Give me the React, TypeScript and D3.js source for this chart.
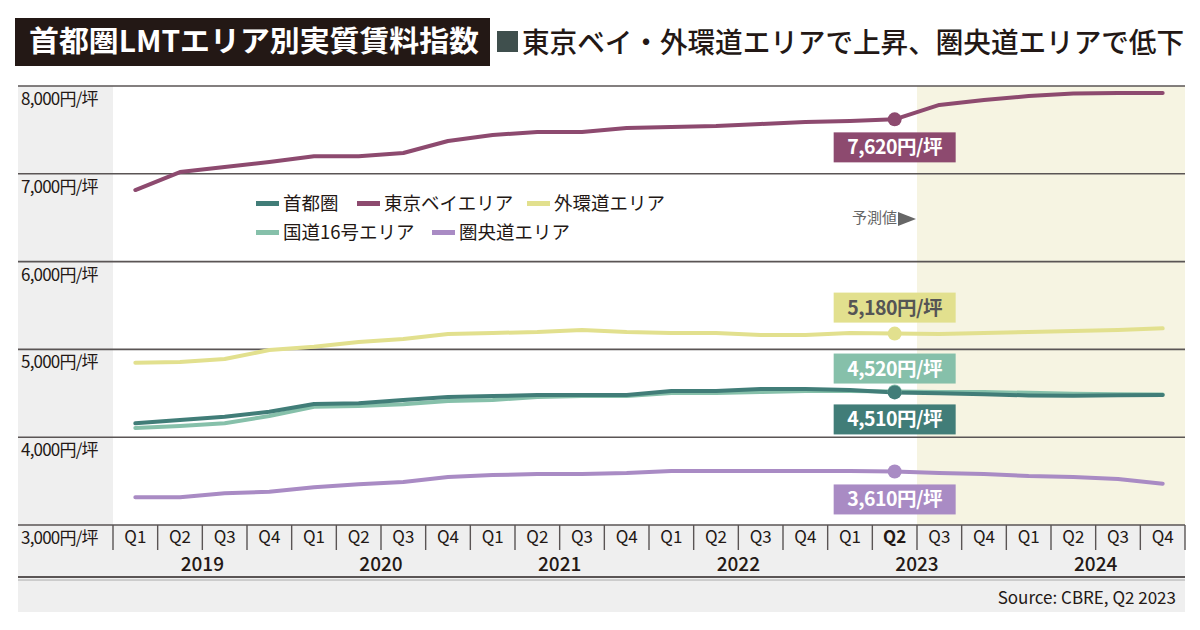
import * as d3 from 'd3';
import React from 'react';

const FONT = "'Noto Sans CJK JP', 'Noto Sans', sans-serif";

const years = ['2019', '2020', '2021', '2022', '2023', '2024'];
const quarterNames = ['Q1', 'Q2', 'Q3', 'Q4'];
const yTicks = [8000, 7000, 6000, 5000, 4000, 3000];

// 実質賃料指数 (円/坪), 2019Q1 - 2024Q4, 2023Q3以降は予測値
const shutoken = [4158, 4196, 4234, 4290, 4378, 4386, 4424, 4458, 4469, 4480, 4480, 4480, 4526, 4526, 4549, 4549, 4538, 4510, 4500, 4488, 4476, 4472, 4478, 4482];
const tokyoBay = [6815, 7020, 7077, 7134, 7200, 7200, 7237, 7373, 7442, 7476, 7476, 7522, 7533, 7544, 7567, 7590, 7600, 7620, 7784, 7840, 7886, 7915, 7920, 7920];
const gaikando = [4848, 4856, 4890, 4993, 5031, 5084, 5118, 5175, 5187, 5198, 5221, 5198, 5187, 5187, 5164, 5164, 5187, 5180, 5175, 5187, 5198, 5210, 5222, 5240];
const kokudo16 = [4105, 4128, 4158, 4241, 4347, 4355, 4375, 4412, 4424, 4458, 4469, 4469, 4503, 4503, 4515, 4526, 4526, 4520, 4515, 4515, 4505, 4495, 4490, 4485];
const kenodo = [3315, 3315, 3361, 3379, 3429, 3463, 3490, 3547, 3569, 3581, 3581, 3592, 3615, 3615, 3615, 3615, 3615, 3610, 3592, 3581, 3558, 3547, 3524, 3470];

const CURRENT = 17; // 2023 Q2

type Series = { name: string; values: number[]; color: string; textColor: string; boxDy: number };

const series: Series[] = [
  { name: '外環道エリア', values: gaikando, color: '#e2e08e', textColor: '#555', boxDy: -41 },
  { name: '国道16号エリア', values: kokudo16, color: '#86c0aa', textColor: '#fff', boxDy: -38 },
  { name: '首都圏', values: shutoken, color: '#417d78', textColor: '#fff', boxDy: 12 },
  { name: '東京ベイエリア', values: tokyoBay, color: '#8d4a6f', textColor: '#fff', boxDy: 13 },
  { name: '圏央道エリア', values: kenodo, color: '#a98bc4', textColor: '#fff', boxDy: 13 },
];

const legendRows = [
  [{ name: '首都圏', x: 256 }, { name: '東京ベイエリア', x: 357 }, { name: '外環道エリア', x: 527 }],
  [{ name: '国道16号エリア', x: 256 }, { name: '圏央道エリア', x: 432 }],
];

const W = 1200;
const H = 630;
const left = 18;
const right = 1185;
const bandStart = 113;
const top = 86;
const bottom = 525;

export default function App() {
  const labels = years.flatMap(y => quarterNames.map(q => `${y}-${q}`));
  const x = d3.scaleBand<string>().domain(labels).range([bandStart, right]);
  const cx = (i: number) => (x(labels[i]) as number) + x.bandwidth() / 2;
  const y = d3.scaleLinear().domain([3000, 8000]).range([bottom, top]);
  const line = d3.line<number>().x((_, i) => cx(i)).y(d => y(d));

  const forecastX = x(labels[CURRENT + 1]) as number;
  const colorOf = (n: string) => series.find(s => s.name === n)!.color;

  return (
    <svg width={W} height={H} style={{ position: 'absolute', left: 0, top: 0 }} fontFamily={FONT}>
      <rect width={W} height={H} fill="#fff" />

      {/* title */}
      <rect x={15} y={18} width={475} height={48} fill="#231815" />
      <text x={29} y={52} fill="#fff" fontSize={29} fontWeight={700} textLength={450} lengthAdjust="spacingAndGlyphs">
        首都圏LMTエリア別実質賃料指数
      </text>
      <rect x={497} y={31} width={21} height={21} fill="#3f4f4d" />
      <text x={522} y={53} fill="#231815" fontSize={28} fontWeight={500} textLength={662} lengthAdjust="spacingAndGlyphs">
        東京ベイ・外環道エリアで上昇、圏央道エリアで低下
      </text>

      {/* backgrounds */}
      <rect x={left} y={top} width={bandStart - left} height={bottom - top} fill="#efefef" />
      <rect x={forecastX} y={top} width={right - forecastX} height={bottom - top} fill="#f6f4e2" />
      <rect x={left} y={bottom} width={right - left} height={H - 18 - bottom} fill="#efefef" />

      {/* grid */}
      {yTicks.map(t => (
        <g key={t}>
          <line x1={left} x2={right} y1={y(t)} y2={y(t)} stroke="#5a5555" strokeWidth={1.6} />
          <text x={21} y={y(t) + 19} fontSize={17} fill="#231815" letterSpacing={-0.8}>
            {d3.format(',')(t)}円/坪
          </text>
        </g>
      ))}

      <text x={forecastX - 20} y={223} fontSize={15} fill="#666" textAnchor="end">予測値</text>
      <path d={`M${forecastX - 19},${212} L${forecastX - 1},${219} L${forecastX - 19},${226} Z`} fill="#666" />

      {/* legend */}
      {legendRows.map((row, r) =>
        row.map(item => (
          <g key={item.name}>
            <rect x={item.x} y={201 + r * 29} width={23} height={5} fill={colorOf(item.name)} />
            <text x={item.x + 27} y={210 + r * 29} fontSize={18.5} fill="#231815">{item.name}</text>
          </g>
        ))
      )}

      {/* lines */}
      {series.map(s => (
        <path key={s.name} d={line(s.values) || ''} fill="none" stroke={s.color} strokeWidth={4} strokeLinejoin="round" strokeLinecap="round" />
      ))}

      {/* current-quarter markers */}
      {series.map(s => (
        <circle key={s.name} cx={cx(CURRENT)} cy={y(s.values[CURRENT])} r={7} fill={s.color} />
      ))}
      {series.map(s => {
        const v = s.values[CURRENT];
        const by = y(v) + s.boxDy;
        return (
          <g key={s.name}>
            <rect x={cx(CURRENT) - 61} y={by} width={122} height={30} fill={s.color} />
            <text x={cx(CURRENT)} y={by + 22} textAnchor="middle" fontSize={19.5} fontWeight={700} fill={s.textColor} letterSpacing={-0.5}>
              {d3.format(',')(v)}円/坪
            </text>
          </g>
        );
      })}

      {/* x axis */}
      <line x1={bandStart} x2={bandStart} y1={bottom} y2={550} stroke="#5a5555" strokeWidth={1.4} />
      {labels.map((l, i) => (
        <g key={l}>
          <line x1={(x(l) as number) + x.bandwidth()} x2={(x(l) as number) + x.bandwidth()} y1={bottom} y2={550} stroke="#5a5555" strokeWidth={1.4} />
          <text x={cx(i)} y={543} textAnchor="middle" fontSize={17} fontWeight={i === CURRENT ? 700 : 400} fill="#231815">
            {quarterNames[i % 4]}
          </text>
        </g>
      ))}
      {years.map(yr => {
        const x0 = x(`${yr}-Q1`) as number;
        const x1 = (x(`${yr}-Q4`) as number) + x.bandwidth();
        return (
          <text key={yr} x={(x0 + x1) / 2} y={571} textAnchor="middle" fontSize={19} fontWeight={500} fill="#231815">
            {yr}
          </text>
        );
      })}
      <line x1={left} x2={right} y1={577} y2={577} stroke="#5a5555" strokeWidth={2} />
      <line x1={left} x2={right} y1={580} y2={580} stroke="#aaa" strokeWidth={1} />

      <text x={1176} y={604} textAnchor="end" fontSize={17} fill="#231815">Source: CBRE, Q2 2023</text>
    </svg>
  );
}
